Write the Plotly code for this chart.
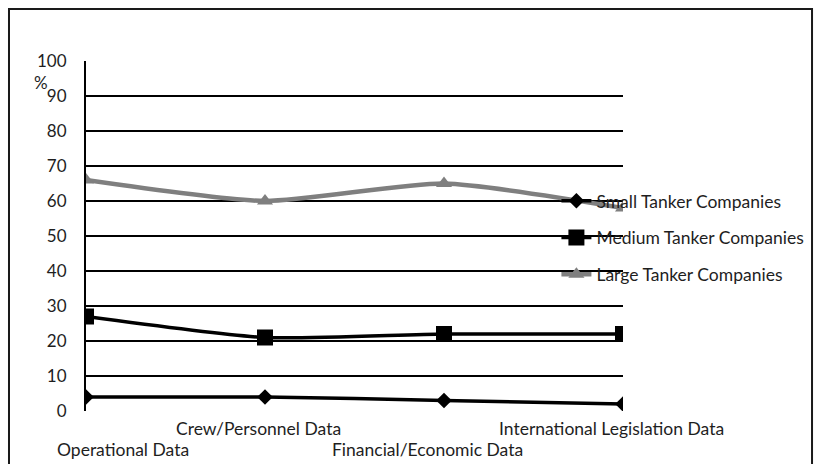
import plotly.graph_objects as go

categories = ["Operational Data", "Crew/Personnel Data", "Financial/Economic Data", "International Legislation Data"]
small = [4, 4, 3, 2]
medium = [27, 21, 22, 22]
large = [66, 60, 65, 58]
y_ticks = [0, 10, 20, 30, 40, 50, 60, 70, 80, 90, 100]

FONT = "Lato"
TXT = "#1e1e1e"
FS = 17.5
xi = list(range(len(categories)))

fig = go.Figure()
fig.add_trace(go.Scatter(
    x=xi, y=small, name="Small Tanker Companies", legendgroup="a",
    mode="lines+markers", line=dict(color="#000000", width=3.5, shape="spline", smoothing=0.6),
    marker=dict(symbol="diamond", size=12, color="#000000")))
fig.add_trace(go.Scatter(
    x=xi, y=medium, name="Medium Tanker Companies", legendgroup="b",
    mode="lines+markers", line=dict(color="#000000", width=3.5, shape="spline", smoothing=0.6),
    marker=dict(symbol="square", size=16, color="#000000")))
fig.add_trace(go.Scatter(
    x=xi, y=large, name="Large Tanker Companies", legendgroup="c",
    mode="lines+markers", line=dict(color="#7f7f7f", width=4.5, shape="spline", smoothing=0.6),
    marker=dict(symbol="triangle-up", size=14, color="#7f7f7f")))

# category labels, staggered like the reference
shifts = [37, -7, -17, -12]
ys = [-0.11, -0.05, -0.11, -0.05]
for i, c in enumerate(categories):
    fig.add_annotation(x=i, y=ys[i], xref="x", yref="paper", text=c, showarrow=False,
                       xanchor="center", yanchor="middle", xshift=shifts[i],
                       font=dict(family=FONT, size=FS, color=TXT))

fig.add_annotation(x=-0.083, y=0.94, xref="paper", yref="paper", text="%", showarrow=False,
                   font=dict(family=FONT, size=17, color=TXT), xanchor="center", yanchor="middle")

# outer border
fig.add_shape(type="rect", xref="paper", yref="paper", x0=-0.1434, x1=1.352, y0=-0.16, y1=1.1486,
              line=dict(color="#1a1a1a", width=2), fillcolor="rgba(0,0,0,0)", layer="below")

fig.update_layout(
    width=815, height=464,
    margin=dict(l=86, r=192, t=61, b=53, autoexpand=False),
    paper_bgcolor="white", plot_bgcolor="white",
    showlegend=True,
    legend=dict(x=0.876, y=0.652, xanchor="left", yanchor="top", bgcolor="rgba(0,0,0,0)",
                traceorder="grouped", tracegroupgap=11,
                font=dict(family=FONT, size=FS, color=TXT)),
    xaxis=dict(range=[0, 3], showgrid=False, zeroline=False, showticklabels=False,
               showline=False, fixedrange=True, automargin=False),
    yaxis=dict(range=[0, 100], tickvals=y_ticks, showgrid=True, gridcolor="#000000", gridwidth=1.5,
               zeroline=False, showline=True, linecolor="#000000", linewidth=2,
               ticklabelstandoff=14, automargin=False,
               tickfont=dict(family=FONT, size=17, color=TXT)),
)
fig.write_html("out.html", config={"displayModeBar": False},
               post_script="document.body.style.margin='0px';document.body.style.overflow='hidden';")
